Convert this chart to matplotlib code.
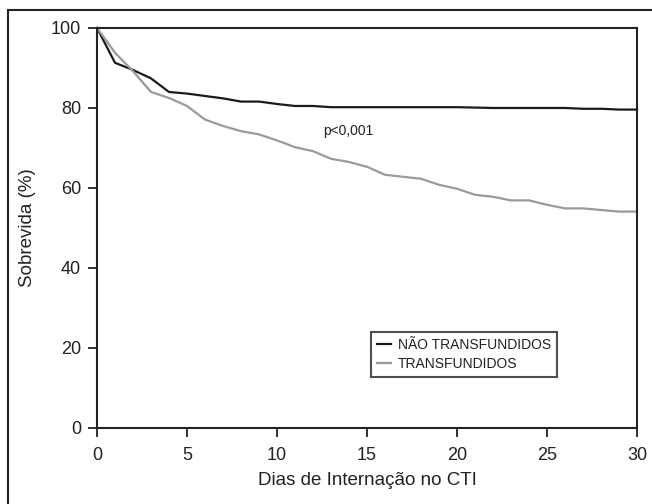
import matplotlib.pyplot as plt
from matplotlib.patches import Rectangle

plt.rcParams['font.family'] = ['Liberation Sans', 'DejaVu Sans']

days = list(range(0, 31))
nao_transfundidos = [100, 91.3, 89.5, 87.4, 84.0, 83.6, 83.0, 82.4, 81.6, 81.6,
                     81.0, 80.5, 80.5, 80.2, 80.2, 80.2, 80.2, 80.2, 80.2, 80.2,
                     80.2, 80.1, 80.0, 80.0, 80.0, 80.0, 80.0, 79.8, 79.8, 79.6,
                     79.6]
transfundidos = [100, 93.8, 89.2, 84.0, 82.5, 80.5, 77.1, 75.5, 74.2, 73.4,
                 71.9, 70.2, 69.2, 67.3, 66.5, 65.3, 63.3, 62.8, 62.3, 60.8,
                 59.8, 58.3, 57.8, 56.9, 56.9, 55.8, 54.9, 54.9, 54.5, 54.1,
                 54.1]
x_ticks = [0, 5, 10, 15, 20, 25, 30]
y_ticks = [0, 20, 40, 60, 80, 100]

fig = plt.figure(figsize=(6.52, 5.04), dpi=100)
ax = fig.add_axes([0.1488, 0.1508, 0.8282, 0.7937])

ax.plot(days, nao_transfundidos, color='#1a1a1a', lw=1.6, label='NÃO TRANSFUNDIDOS', clip_on=False)
ax.plot(days, transfundidos, color='#9a9a9a', lw=1.6, label='TRANSFUNDIDOS', clip_on=False)

ax.set_xlim(0, 30)
ax.set_ylim(0, 100)
ax.set_xticks(x_ticks)
ax.set_yticks(y_ticks)
ax.tick_params(direction='out', length=6.5, width=1.3, labelsize=13, color='#222222', labelcolor='#222222')
ax.tick_params(axis='x', pad=7)
ax.tick_params(axis='y', pad=5)
for s in ax.spines.values():
    s.set_linewidth(1.5)
    s.set_color('#222222')

ax.set_xlabel('Dias de Internação no CTI', fontsize=13.5, color='#222222', labelpad=6)
ax.set_ylabel('Sobrevida (%)', fontsize=13.5, color='#222222', labelpad=11)

ax.text(12.55, 74.3, 'p<0,001', fontsize=10, va='center', ha='left', color='#222222')

leg = ax.legend(loc='upper left', bbox_to_anchor=(0.507, 0.24), fontsize=10,
                frameon=True, fancybox=False, handlelength=1.0, handletextpad=0.5,
                borderpad=0.45, labelspacing=0.35, borderaxespad=0)
leg.get_frame().set_edgecolor('#222222')
leg.get_frame().set_linewidth(1.5)
for t in leg.get_texts():
    t.set_color('#222222')

# outer frame around the figure
frame = Rectangle((8 / 652, -0.05), 1.1, 1 - 10 / 504 + 0.05, transform=fig.transFigure,
                  fill=False, edgecolor='#222222', lw=1.5)
fig.patches.append(frame)

plt.savefig('out.png', dpi=100)
